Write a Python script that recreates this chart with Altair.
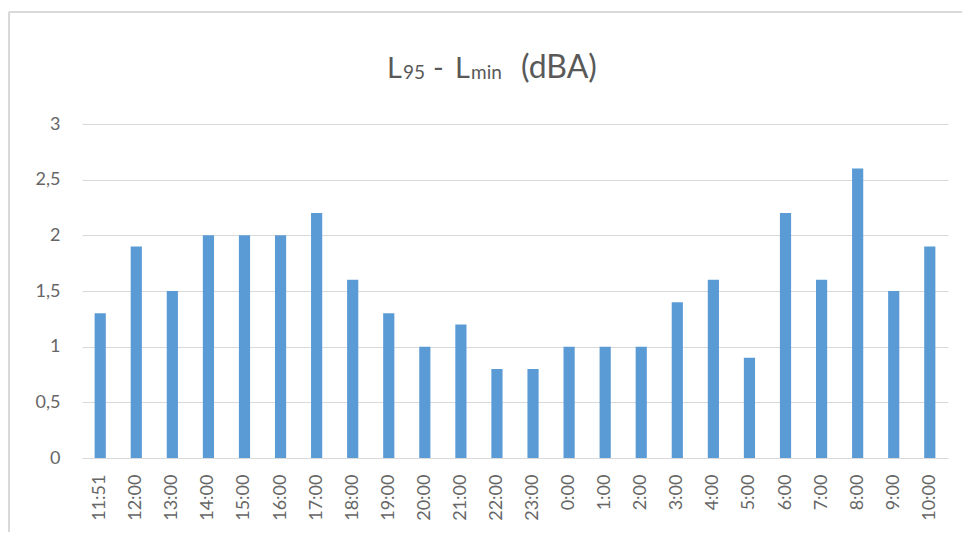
import altair as alt
import pandas as pd

times = ["11:51", "12:00", "13:00", "14:00", "15:00", "16:00", "17:00", "18:00",
         "19:00", "20:00", "21:00", "22:00", "23:00", "0:00", "1:00", "2:00",
         "3:00", "4:00", "5:00", "6:00", "7:00", "8:00", "9:00", "10:00"]
values = [1.3, 1.9, 1.5, 2.0, 2.0, 2.0, 2.2, 1.6, 1.3, 1.0, 1.2, 0.8,
          0.8, 1.0, 1.0, 1.0, 1.4, 1.6, 0.9, 2.2, 1.6, 2.6, 1.5, 1.9]
y_ticks = [0, 0.5, 1, 1.5, 2, 2.5, 3]

# title pieces
title_parts = ["L", "95", "-", "L", "min", "(dBA)"]

df = pd.DataFrame({"time": times, "value": values})

FONT = "Lato"
GREY = "#595959"
LABEL_GREY = "#666666"
FRAME = "#d9d9d9"

bars = alt.Chart(df).mark_bar(color="#5B9BD5").encode(
    x=alt.X("time:N", sort=times, title=None,
            scale=alt.Scale(paddingInner=0.69, paddingOuter=0.35),
            axis=alt.Axis(labelAngle=-90, labelAlign="right", labelBaseline="middle",
                          labelPadding=16, ticks=False, domainColor=FRAME,
                          labelColor=LABEL_GREY, labelFontSize=18, labelFont=FONT, grid=False)),
    y=alt.Y("value:Q", title=None,
            scale=alt.Scale(domain=[0, 3], nice=False),
            axis=alt.Axis(values=y_ticks, ticks=False, domain=False,
                          labelExpr="replace(toString(datum.value), '.', ',')",
                          labelPadding=22, labelColor=LABEL_GREY, labelFontSize=18,
                          labelFont=FONT, gridColor=FRAME, gridWidth=1)),
)

one = pd.DataFrame({"a": [0]})
frame_top = alt.Chart(one).mark_rule(color=FRAME, strokeWidth=2).encode(
    x=alt.value(-73), x2=alt.value(880), y=alt.value(-112)
)
frame_left = alt.Chart(one).mark_rule(color=FRAME, strokeWidth=2).encode(
    x=alt.value(-73), y=alt.value(-112), y2=alt.value(410)
)

def title_piece(text, xpos, size, dy=0, align="left"):
    return alt.Chart(pd.DataFrame({"t": [text]})).mark_text(
        font=FONT, fontSize=size, color=GREY, align=align, baseline="alphabetic", dy=dy
    ).encode(text="t:N", x=alt.value(xpos), y=alt.value(-46))

# plot-relative x positions (plot left edge at page x=82)
t1 = title_piece(title_parts[0], 387 - 82, 29)
t2 = title_piece(title_parts[1], 403 - 82, 19, dy=1)
t3 = title_piece(title_parts[2], 433 - 82, 29)
t4 = title_piece(title_parts[3], 455 - 82, 29)
t5 = title_piece(title_parts[4], 471 - 82, 19, dy=1)
t6 = title_piece(title_parts[5], 521 - 82, 32)

chart = alt.layer(frame_top, frame_left, bars, t1, t2, t3, t4, t5, t6).properties(
    width=866, height=334,
    padding={"left": 74, "top": 116, "right": 14, "bottom": 74},
    autosize=alt.AutoSizeParams(type="none"),
).configure(background="white").configure_view(strokeWidth=0, stroke=None)

chart.save("out.html", embed_options={"renderer": "svg", "actions": False})
